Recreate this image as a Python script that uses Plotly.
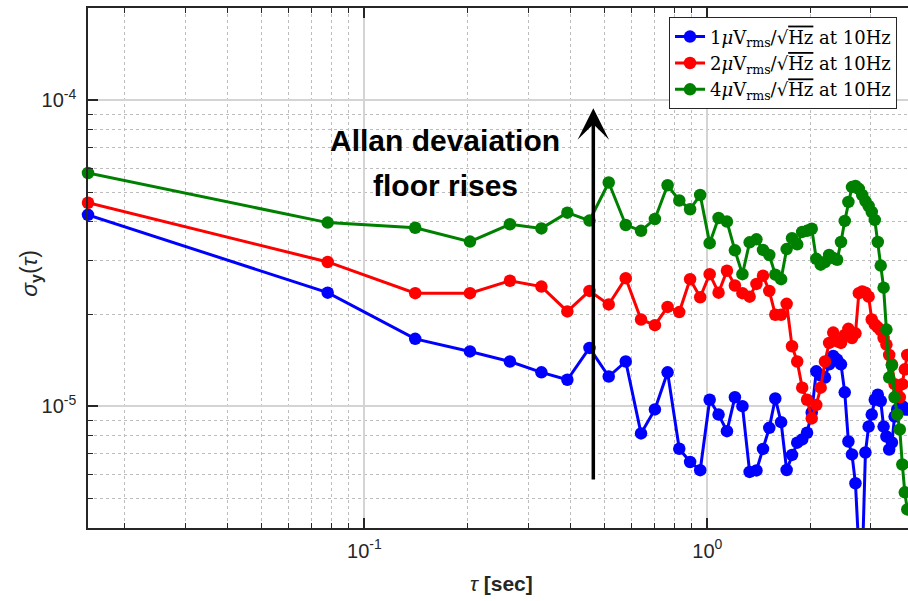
import numpy as np
import plotly.graph_objects as go

# averaging time tau [s]
tau = [0.015625, 0.078125, 0.140625, 0.203125, 0.265625, 0.328125, 0.390625, 0.453125,
       0.515625, 0.578125, 0.640625, 0.703125, 0.765625, 0.828125, 0.890625, 0.953125,
       1.015625, 1.078125, 1.140625, 1.203125, 1.265625, 1.328125, 1.390625, 1.453125,
       1.515625, 1.578125, 1.640625, 1.703125, 1.765625, 1.828125, 1.890625, 1.953125,
       2.015625, 2.078125, 2.140625, 2.203125, 2.265625, 2.328125, 2.390625, 2.453125,
       2.515625, 2.578125, 2.640625, 2.703125, 2.765625, 2.828125, 2.890625, 2.953125,
       3.015625, 3.078125, 3.140625, 3.203125, 3.265625, 3.328125, 3.390625, 3.453125,
       3.515625, 3.578125, 3.640625, 3.703125, 3.765625, 3.828125]

sigma_1uV = [4.22e-5, 2.35e-5, 1.66e-5, 1.51e-5, 1.40e-5, 1.29e-5, 1.22e-5, 1.55e-5, 1.25e-5, 1.40e-5,
             8.15e-6, 9.76e-6, 1.29e-5, 7.26e-6, 6.57e-6, 6.18e-6, 1.05e-5, 9.39e-6, 8.29e-6, 1.07e-5,
             1.00e-5, 6.10e-6, 6.17e-6, 7.25e-6, 8.50e-6, 1.06e-5, 8.87e-6, 6.19e-6, 6.93e-6, 7.60e-6,
             7.79e-6, 8.19e-6, 9.54e-6, 1.30e-5, 1.26e-5, 1.24e-5, 1.37e-5, 1.46e-5, 1.42e-5, 1.37e-5,
             1.11e-5, 7.67e-6, 6.96e-6, 5.60e-6, 3.40e-6, 3.00e-6, 7.06e-6, 8.58e-6, 9.39e-6, 1.05e-5,
             1.09e-5, 1.04e-5, 8.58e-6, 7.96e-6, 7.22e-6, 7.61e-6, 9.25e-6, 9.76e-6, 9.98e-6, 1.00e-5,
             9.76e-6, 9.76e-6]

sigma_2uV = [4.62e-5, 2.96e-5, 2.34e-5, 2.34e-5, 2.57e-5, 2.46e-5, 2.04e-5, 2.38e-5, 2.15e-5, 2.62e-5,
             1.92e-5, 1.84e-5, 2.11e-5, 2.03e-5, 2.60e-5, 2.27e-5, 2.70e-5, 2.35e-5, 2.77e-5, 2.48e-5,
             2.34e-5, 2.28e-5, 2.51e-5, 2.67e-5, 2.38e-5, 1.99e-5, 1.99e-5, 2.16e-5, 1.57e-5, 1.40e-5,
             1.15e-5, 1.05e-5, 9.12e-6, 1.01e-5, 1.15e-5, 1.40e-5, 1.61e-5, 1.74e-5, 1.63e-5, 1.61e-5,
             1.71e-5, 1.79e-5, 1.67e-5, 1.73e-5, 2.34e-5, 2.37e-5, 2.35e-5, 2.28e-5, 1.92e-5, 1.85e-5,
             1.81e-5, 1.77e-5, 1.67e-5, 1.59e-5, 1.47e-5, 1.37e-5, 1.18e-5, 1.09e-5, 1.07e-5, 1.18e-5,
             1.32e-5, 1.47e-5]

sigma_4uV = [5.78e-5, 3.98e-5, 3.83e-5, 3.45e-5, 3.93e-5, 3.81e-5, 4.29e-5, 4.04e-5, 5.38e-5, 3.91e-5,
             3.74e-5, 4.09e-5, 5.27e-5, 4.70e-5, 4.40e-5, 4.90e-5, 3.41e-5, 4.12e-5, 4.01e-5, 3.23e-5,
             2.70e-5, 3.43e-5, 3.51e-5, 3.24e-5, 3.12e-5, 2.69e-5, 2.60e-5, 3.26e-5, 3.54e-5, 3.38e-5,
             3.71e-5, 3.74e-5, 3.80e-5, 3.03e-5, 2.90e-5, 2.96e-5, 3.12e-5, 3.05e-5, 3.01e-5, 3.44e-5,
             4.03e-5, 4.65e-5, 5.20e-5, 5.24e-5, 5.13e-5, 4.90e-5, 4.68e-5, 4.51e-5, 4.31e-5, 4.06e-5,
             3.44e-5, 2.88e-5, 2.44e-5, 1.78e-5, 1.24e-5, 1.36e-5, 1.07e-5, 9.39e-6, 8.39e-6, 6.45e-6,
             5.23e-6, 4.60e-6]

series_names = [
    "1<i>μ</i>V<sub>rms</sub>/√<span style='text-decoration:overline'>Hz</span> at 10Hz",
    "2<i>μ</i>V<sub>rms</sub>/√<span style='text-decoration:overline'>Hz</span> at 10Hz",
    "4<i>μ</i>V<sub>rms</sub>/√<span style='text-decoration:overline'>Hz</span> at 10Hz",
]
series_colors = ["#0000ff", "#ff0000", "#008000"]

x_ticks = [0.1, 1]
x_ticktext = ["10<sup>-1</sup>", "10<sup>0</sup>"]
y_ticks = [1e-5, 1e-4]
y_ticktext = ["10<sup>-5</sup>", "10<sup>-4</sup>"]

x_range = [1 / 64, 3.847]
y_range = [4e-6, 2e-4]

arrow_tau = 0.465
arrow_bottom = 5.7e-6
arrow_top = 9.4e-5

fig = go.Figure()
for name, ys, col, grp in zip(series_names, [sigma_1uV, sigma_2uV, sigma_4uV], series_colors, ["a", "b", "c"]):
    fig.add_trace(go.Scatter(
        x=tau, y=ys, name=name, mode="lines+markers", legendgroup=grp,
        line=dict(color=col, width=3),
        marker=dict(color=col, size=12.5, line=dict(width=0)),
        cliponaxis=False,
    ))

axis_col = "#262626"
grid_major = "#d4d4d4"
grid_minor = "#bdbdbd"
tick_font = dict(family="Liberation Sans, Arial, sans-serif", size=20, color=axis_col)

fig.update_xaxes(
    type="log", range=[np.log10(x_range[0]), np.log10(x_range[1])],
    tickmode="array", tickvals=x_ticks, ticktext=x_ticktext,
    ticks="inside", ticklen=10, tickwidth=1.5, tickcolor=axis_col,
    showline=True, linecolor=axis_col, linewidth=1.5, mirror="ticks",
    showgrid=True, gridcolor=grid_major, gridwidth=1.5,
    tickfont=tick_font, zeroline=False, ticklabelstandoff=4,
    minor=dict(dtick="D1", tickmode="linear", ticks="inside", ticklen=5, tickwidth=1,
               tickcolor=axis_col, showgrid=True, gridcolor=grid_minor, griddash="dot", gridwidth=1),
)
fig.update_yaxes(
    type="log", range=[np.log10(y_range[0]), np.log10(y_range[1])],
    tickmode="array", tickvals=y_ticks, ticktext=y_ticktext,
    ticks="inside", ticklen=10, tickwidth=1.5, tickcolor=axis_col,
    showline=True, linecolor=axis_col, linewidth=1.5, mirror=False,
    showgrid=True, gridcolor=grid_major, gridwidth=1.5,
    tickfont=tick_font, zeroline=False, ticklabelstandoff=6,
    minor=dict(dtick="D1", tickmode="linear", ticks="inside", ticklen=5, tickwidth=1,
               tickcolor=axis_col, showgrid=True, gridcolor=grid_minor, griddash="dot", gridwidth=1),
)

fig.add_annotation(
    x=np.log10(arrow_tau), y=np.log10(arrow_top), ax=np.log10(arrow_tau), ay=np.log10(arrow_bottom),
    xref="x", yref="y", axref="x", ayref="y", text="", showarrow=True,
    arrowhead=3, arrowsize=1.5, arrowwidth=3.5, arrowcolor="black", standoff=0, startstandoff=0,
)
label_font = dict(family="Liberation Sans, Arial, sans-serif", size=30, color="black")
fig.add_annotation(x=0.4354, y=0.745, xref="paper", yref="paper", text="<b>Allan devaiation</b>",
                   showarrow=False, font=label_font, xanchor="center", yanchor="middle")
fig.add_annotation(x=0.4354, y=0.658, xref="paper", yref="paper", text="<b>floor rises</b>",
                   showarrow=False, font=label_font, xanchor="center", yanchor="middle")

fig.add_annotation(x=-0.07, y=0.49, xref="paper", yref="paper",
                   text="<i>σ</i><sub><b>y</b></sub>(<i>τ</i>)", textangle=-90, showarrow=False,
                   font=dict(family="Liberation Sans, Arial, sans-serif", size=23, color=axis_col),
                   xanchor="center", yanchor="middle")
fig.add_annotation(x=0.504, y=-0.106, xref="paper", yref="paper",
                   text="<i>τ</i> <b>[sec]</b>", showarrow=False,
                   font=dict(family="Liberation Sans, Arial, sans-serif", size=21, color=axis_col),
                   xanchor="center", yanchor="middle")

fig.update_layout(
    width=908, height=601,
    margin=dict(l=88, r=0, t=8, b=73),
    paper_bgcolor="white", plot_bgcolor="white",
    showlegend=True,
    legend=dict(x=0.9866, y=0.982, xanchor="right", yanchor="top",
                bgcolor="white", bordercolor=axis_col, borderwidth=1,
                font=dict(family="DejaVu Serif, serif", size=18, color="black"),
                tracegroupgap=0, itemwidth=30),
)

fig.write_html("out.html")
